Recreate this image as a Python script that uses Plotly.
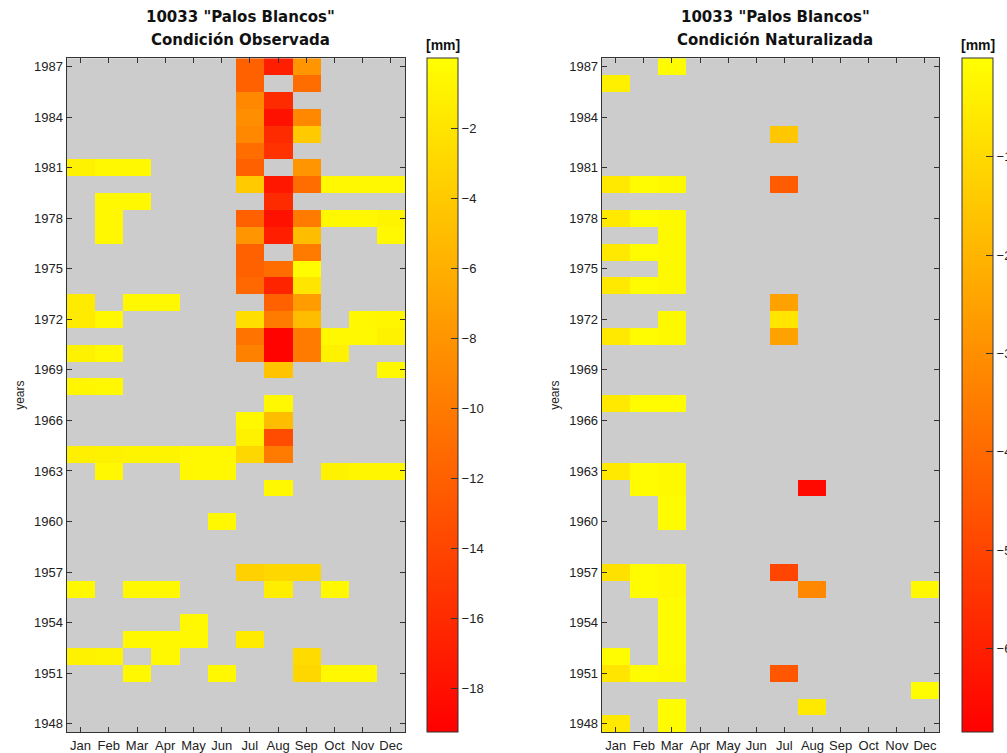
import plotly.graph_objects as go

N = None
months = ["Jan", "Feb", "Mar", "Apr", "May", "Jun", "Jul", "Aug", "Sep", "Oct", "Nov", "Dec"]
years_desc = list(range(1987, 1947, -1))
year_ticks = list(range(1948, 1988, 3))

# Observed condition, rows 1987 -> 1948, columns Jan..Dec  [mm]
obs_desc = [
    [N, N, N, N, N, N, -12, -17, -8, N, N, N],          # 1987
    [N, N, N, N, N, N, -12, N, -11, N, N, N],           # 1986
    [N, N, N, N, N, N, -9, -16, N, N, N, N],            # 1985
    [N, N, N, N, N, N, -8.5, -18, -9, N, N, N],         # 1984
    [N, N, N, N, N, N, -9, -16, -4, N, N, N],           # 1983
    [N, N, N, N, N, N, -11, -15.5, N, N, N, N],         # 1982
    [-1, -0.5, -0.5, N, N, N, -12, N, -8, N, N, N],     # 1981
    [N, N, N, N, N, N, -4, -17.5, -11, -0.5, -0.5, -0.5],  # 1980
    [N, -0.5, -0.5, N, N, N, N, -16, N, N, N, N],       # 1979
    [N, -0.5, N, N, N, N, -12, -18, -10, -0.5, -0.5, -0.8],  # 1978
    [N, -0.5, N, N, N, N, -8, -17, -5, N, N, -0.5],     # 1977
    [N, N, N, N, N, N, -12, N, -10, N, N, N],           # 1976
    [N, N, N, N, N, N, -12, -11, -0.3, N, N, N],        # 1975
    [N, N, N, N, N, N, -11.5, -16.5, -2, N, N, N],      # 1974
    [-1.5, N, -0.5, -0.5, N, N, N, -12, -7.5, N, N, N],  # 1973
    [-1.5, -0.5, N, N, N, N, -2.5, -10, -5, N, -0.5, -0.7],  # 1972
    [N, N, N, N, N, N, -10.5, -19, -10, -0.5, -0.5, -1],  # 1971
    [-1, -0.5, N, N, N, N, -9.5, -19, -10, -1, N, N],   # 1970
    [N, N, N, N, N, N, N, -4.5, N, N, N, -0.5],         # 1969
    [-0.7, -0.5, N, N, N, N, N, N, N, N, N, N],         # 1968
    [N, N, N, N, N, N, N, -0.5, N, N, N, N],            # 1967
    [N, N, N, N, N, N, -0.5, -5, N, N, N, N],           # 1966
    [N, N, N, N, N, N, -1, -13.5, N, N, N, N],          # 1965
    [-1.2, -1, -0.8, -0.8, -0.5, -0.5, -3, -10, N, N, N, N],  # 1964
    [N, -0.5, N, N, -0.5, -0.5, N, N, N, -1, -0.7, -0.7],  # 1963
    [N, N, N, N, N, N, N, -0.5, N, N, N, N],            # 1962
    [N, N, N, N, N, N, N, N, N, N, N, N],               # 1961
    [N, N, N, N, N, -0.5, N, N, N, N, N, N],            # 1960
    [N, N, N, N, N, N, N, N, N, N, N, N],               # 1959
    [N, N, N, N, N, N, N, N, N, N, N, N],               # 1958
    [N, N, N, N, N, N, -3.5, -3, -3, N, N, N],          # 1957
    [-0.5, N, -0.5, -0.5, N, N, N, -1.3, N, -0.5, N, N],  # 1956
    [N, N, N, N, N, N, N, N, N, N, N, N],               # 1955
    [N, N, N, N, -0.5, N, N, N, N, N, N, N],            # 1954
    [N, N, -0.5, -0.5, -0.5, N, -1.5, N, N, N, N, N],   # 1953
    [-1, -0.8, N, -0.5, N, N, N, N, -2.7, N, N, N],     # 1952
    [N, N, -0.5, N, N, -0.5, N, N, -3, -0.5, -0.5, N],  # 1951
    [N, N, N, N, N, N, N, N, N, N, N, N],               # 1950
    [N, N, N, N, N, N, N, N, N, N, N, N],               # 1949
    [N, N, N, N, N, N, N, N, N, N, N, N],               # 1948
]

# Naturalized condition, rows 1987 -> 1948, columns Jan..Dec  [mm]
nat_desc = [
    [N, N, -0.1, N, N, N, N, N, N, N, N, N],            # 1987
    [-0.4, N, N, N, N, N, N, N, N, N, N, N],            # 1986
    [N, N, N, N, N, N, N, N, N, N, N, N],               # 1985
    [N, N, N, N, N, N, N, N, N, N, N, N],               # 1984
    [N, N, N, N, N, N, -1.5, N, N, N, N, N],            # 1983
    [N, N, N, N, N, N, N, N, N, N, N, N],               # 1982
    [N, N, N, N, N, N, N, N, N, N, N, N],               # 1981
    [-0.6, -0.1, -0.15, N, N, N, -4.4, N, N, N, N, N],  # 1980
    [N, N, N, N, N, N, N, N, N, N, N, N],               # 1979
    [-0.6, -0.1, -0.15, N, N, N, N, N, N, N, N, N],     # 1978
    [N, N, -0.15, N, N, N, N, N, N, N, N, N],           # 1977
    [-0.6, -0.1, -0.15, N, N, N, N, N, N, N, N, N],     # 1976
    [N, N, -0.15, N, N, N, N, N, N, N, N, N],           # 1975
    [-0.6, -0.1, -0.15, N, N, N, N, N, N, N, N, N],     # 1974
    [N, N, N, N, N, N, -2.5, N, N, N, N, N],            # 1973
    [N, N, -0.15, N, N, N, -0.7, N, N, N, N, N],        # 1972
    [-0.6, -0.1, -0.15, N, N, N, -2.5, N, N, N, N, N],  # 1971
    [N, N, N, N, N, N, N, N, N, N, N, N],               # 1970
    [N, N, N, N, N, N, N, N, N, N, N, N],               # 1969
    [N, N, N, N, N, N, N, N, N, N, N, N],               # 1968
    [-0.6, -0.1, -0.1, N, N, N, N, N, N, N, N, N],      # 1967
    [N, N, N, N, N, N, N, N, N, N, N, N],               # 1966
    [N, N, N, N, N, N, N, N, N, N, N, N],               # 1965
    [N, N, N, N, N, N, N, N, N, N, N, N],               # 1964
    [-0.6, -0.1, -0.15, N, N, N, N, N, N, N, N, N],     # 1963
    [N, -0.1, -0.15, N, N, N, N, -6.6, N, N, N, N],     # 1962
    [N, N, -0.1, N, N, N, N, N, N, N, N, N],            # 1961
    [N, N, -0.1, N, N, N, N, N, N, N, N, N],            # 1960
    [N, N, N, N, N, N, N, N, N, N, N, N],               # 1959
    [N, N, N, N, N, N, N, N, N, N, N, N],               # 1958
    [-0.8, -0.1, -0.2, N, N, N, -5.0, N, N, N, N, N],   # 1957
    [N, -0.1, -0.2, N, N, N, N, -3.2, N, N, N, -0.2],   # 1956
    [N, N, -0.1, N, N, N, N, N, N, N, N, N],            # 1955
    [N, N, -0.1, N, N, N, N, N, N, N, N, N],            # 1954
    [N, N, -0.1, N, N, N, N, N, N, N, N, N],            # 1953
    [-0.1, N, -0.1, N, N, N, N, N, N, N, N, N],         # 1952
    [-0.7, -0.1, -0.15, N, N, N, -4.5, N, N, N, N, N],  # 1951
    [N, N, N, N, N, N, N, N, N, N, N, -0.1],            # 1950
    [N, N, -0.1, N, N, N, N, -0.6, N, N, N, N],         # 1949
    [-0.6, N, -0.1, N, N, N, N, N, N, N, N, N],         # 1948
]

title_line1 = '10033 "Palos Blancos"'
title_line2 = ["Condición Observada", "Condición Naturalizada"]
obs_ticks = [-2, -4, -6, -8, -10, -12, -14, -16, -18]
nat_ticks = [-1, -2, -3, -4, -5, -6]
obs_range = (-19.25, 0)
nat_range = (-6.85, 0)

W, H = 1007, 753
colorscale = [[0, "#ff0000"], [1, "#ffff00"]]
tickfont = dict(family="Liberation Sans, Arial", size=13, color="#222")

ytop = 1 - 58.3 / H
ybot = 1 - 732 / H
dom1 = [66.5 / W, 405 / W]
dom2 = [601.7 / W, 939 / W]

fig = go.Figure()


def cbar(xpix, ticks):
    return dict(
        x=xpix / W, xanchor="left", xpad=0, ypad=0,
        y=ytop, yanchor="top", len=732 - 58.3, lenmode="pixels",
        thickness=31, thicknessmode="pixels",
        outlinewidth=1, outlinecolor="#333",
        tickvals=ticks, ticks="inside", ticklen=7, tickcolor="#333",
        tickfont=tickfont,
    )


fig.add_trace(go.Heatmap(
    z=obs_desc[::-1], x=months, y=years_desc[::-1],
    colorscale=colorscale, zmin=obs_range[0], zmax=obs_range[1],
    colorbar=cbar(427, obs_ticks), xaxis="x", yaxis="y", hoverongaps=False,
))
fig.add_trace(go.Heatmap(
    z=nat_desc[::-1], x=months, y=years_desc[::-1],
    colorscale=colorscale, zmin=nat_range[0], zmax=nat_range[1],
    colorbar=cbar(962, nat_ticks), xaxis="x2", yaxis="y2", hoverongaps=False,
))

axis_common = dict(showline=True, linecolor="#333", linewidth=1, mirror="ticks",
                   ticks="inside", ticklen=5, tickcolor="#333", tickfont=tickfont,
                   showgrid=False, zeroline=False, automargin=False)

xcommon = dict(axis_common, type="category", range=[-0.5, 11.5], ticklabelstandoff=1)
ycommon = dict(axis_common, range=[1947.5, 1987.5], tickvals=year_ticks,
               title=dict(text="years", font=dict(family="Liberation Sans, Arial", size=12, color="#222"),
                          standoff=6))

fig.update_layout(
    width=W, height=H,
    margin=dict(l=0, r=0, t=0, b=0, autoexpand=False),
    paper_bgcolor="white", plot_bgcolor="#cccccc",
    showlegend=False,
    xaxis=dict(xcommon, domain=dom1, anchor="y"),
    yaxis=dict(ycommon, domain=[ybot, ytop], anchor="x"),
    xaxis2=dict(xcommon, domain=dom2, anchor="y2"),
    yaxis2=dict(ycommon, domain=[ybot, ytop], anchor="x2"),
)

title_font = dict(family="DejaVu Sans, Verdana", size=15, color="#111")
for dom, t2 in zip([dom1, dom2], title_line2):
    xc = (dom[0] + dom[1]) / 2 + 5 / W
    fig.add_annotation(text="<b>" + title_line1 + "</b>", xref="paper", yref="paper",
                       x=xc, y=1 - 17 / H, xanchor="center", yanchor="middle",
                       showarrow=False, font=title_font)
    fig.add_annotation(text="<b>" + t2 + "</b>", xref="paper", yref="paper",
                       x=xc, y=1 - 40.5 / H, xanchor="center", yanchor="middle",
                       showarrow=False, font=title_font)

for xc in [443, 978]:
    fig.add_annotation(text="<b>[mm]</b>", xref="paper", yref="paper",
                       x=xc / W, y=1 - 45 / H, xanchor="center", yanchor="middle",
                       showarrow=False, font=dict(family="Liberation Sans, Arial", size=14, color="#111"))

fig.write_html("out.html", config={"displayModeBar": False},
               post_script="document.body.style.margin='0';document.body.style.overflow='hidden';")
